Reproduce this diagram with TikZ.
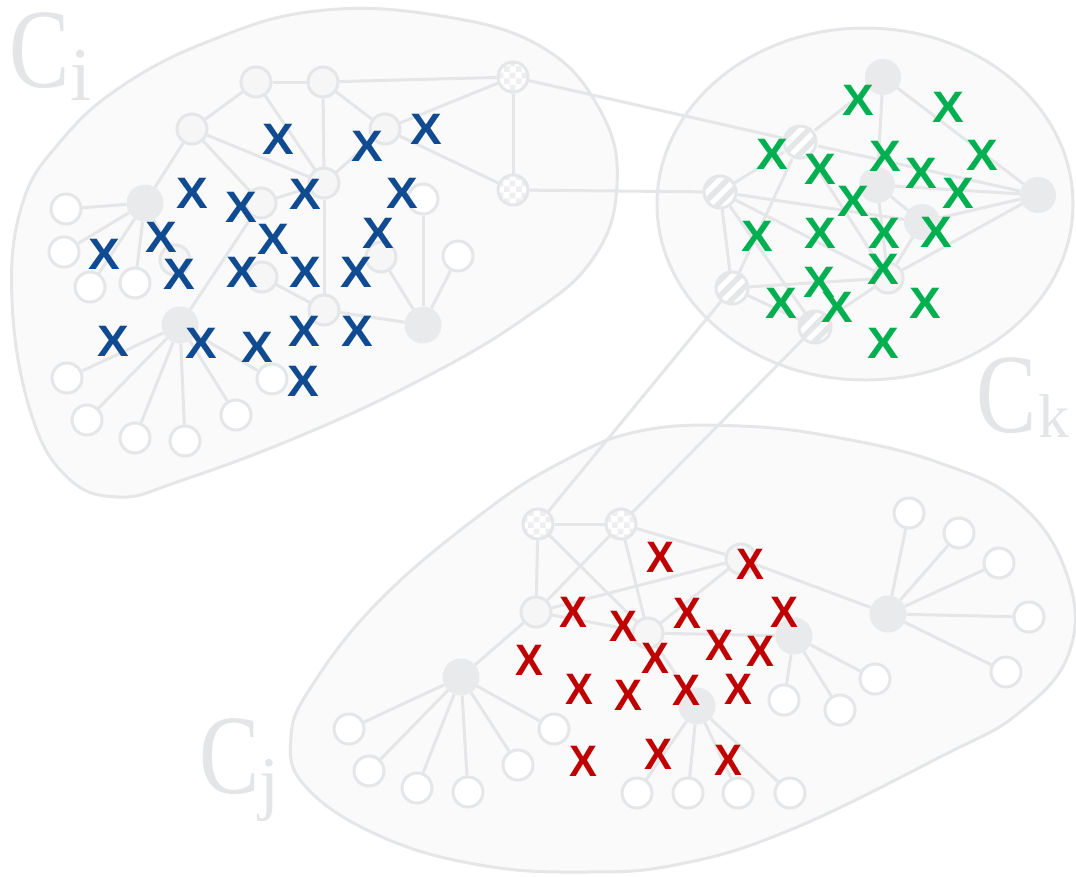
\documentclass[tikz,border=0pt]{standalone}
\usepackage{fontspec}
\usetikzlibrary{patterns,patterns.meta}
\newfontfamily\xfont{Liberation Sans}
\newfontfamily\lfont{Liberation Serif}
\definecolor{gline}{RGB}{229,230,232}
\definecolor{gfill}{RGB}{233,234,236}
\definecolor{blobfill}{RGB}{250,250,251}
\definecolor{innerfill}{RGB}{246,246,247}
\definecolor{xblue}{RGB}{16,74,145}
\definecolor{xgreen}{RGB}{0,176,80}
\definecolor{xred}{RGB}{192,0,0}
\definecolor{lbl}{RGB}{228,229,231}
\definecolor{chkcol}{RGB}{238,238,240}
\pgfdeclarepatternformonly{bigcheck}{\pgfpointorigin}{\pgfqpoint{12pt}{12pt}}{\pgfqpoint{12pt}{12pt}}{%
  \pgfpathrectangle{\pgfpointorigin}{\pgfqpoint{6pt}{6pt}}%
  \pgfpathrectangle{\pgfqpoint{6pt}{6pt}}{\pgfqpoint{6pt}{6pt}}%
  \pgfusepath{fill}}
\pgfdeclarelayer{blobs}
\pgfdeclarelayer{edges}
\pgfsetlayers{blobs,edges,main}
\tikzset{
  leaf/.style={circle, draw=gline, line width=3pt, fill=white, minimum size=30pt, inner sep=0pt},
  inner/.style={leaf, fill=innerfill},
  hub/.style={circle, fill=gfill, minimum size=37pt, inner sep=0pt},
  chk/.style={leaf, preaction={fill=white}, pattern=bigcheck, pattern color=chkcol},
  strp/.style={leaf, minimum size=32pt, preaction={fill=white}, pattern={Lines[angle=45,distance=11pt,line width=5.5pt]}, pattern color=gline},
  edge/.style={draw=gline, line width=3pt},
  blob/.style={draw=gline, line width=3pt, fill=blobfill},
  xm/.style={inner sep=0pt, font=\xfont\bfseries\fontsize{44}{44}\selectfont},
  xb/.style={xm, text=xblue},
  xg/.style={xm, text=xgreen},
  xr/.style={xm, text=xred},
  lbl/.style={inner sep=0pt, anchor=base, text=lbl}
}
\begin{document}
\begin{tikzpicture}[x=1pt,y=-1pt]
\useasboundingbox (0,0) rectangle (1076,876);
\begin{pgfonlayer}{blobs}
\fill[white] (0,0) rectangle (1076,876);
% C_i blob
\draw[blob] plot[smooth cycle, tension=0.7] coordinates {(316,11) (435,15) (540,46) (600,110) (617,185) (592,260) (522,320) (420,380) (300,436) (180,481) (118,497) (66,476) (30,410) (12,300) (22,205) (60,142) (122,86) (212,40)};
% C_k blob
\draw[blob] (865,204) ellipse [x radius=208, y radius=176];
% C_j blob
\draw[blob] plot[smooth cycle, tension=0.7] coordinates {(560,463) (640,431) (740,426) (840,438) (940,463) (1018,502) (1066,572) (1070,650) (1020,712) (940,757) (790,830) (680,864) (585,872) (480,865) (380,836) (306,787) (291,737) (313,684) (380,600) (480,515)};
\end{pgfonlayer}

% ---------- C_i nodes
\node[inner] (ciA) at (256,82) {};
\node[inner] (ciB) at (323,82) {};
\node[chk] (ciC) at (513,77) {};
\node[inner] (ciD) at (192,129) {};
\node[inner] (ciE) at (385,129) {};
\node[inner] (ciF) at (324,183) {};
\node[chk] (ciG) at (513,190) {};
\node[hub] (ciH) at (145,203) {};
\node[leaf] (ciI) at (66,209) {};
\node[inner] (ciJ) at (261,203) {};
\node[leaf] (ciK) at (423,199) {};
\node[leaf] (ciL) at (64,252) {};
\node[inner] (ciM) at (175,260) {};
\node[leaf] (ciN) at (90,287) {};
\node[leaf] (ciO) at (135,283) {};
\node[inner] (ciP) at (381,257) {};
\node[leaf] (ciQ) at (458,256) {};
\node[inner] (ciR) at (262,277) {};
\node[inner] (ciS) at (324,310) {};
\node[hub] (ciT) at (423,325) {};
\node[hub] (ciU) at (180,325) {};
\node[leaf] (ciV) at (67,378) {};
\node[leaf] (ciW) at (87,420) {};
\node[leaf] (ciX) at (135,438) {};
\node[leaf] (ciY) at (185,441) {};
\node[leaf] (ciZ) at (236,415) {};
\node[leaf] (ciAA) at (272,379) {};

% ---------- C_k nodes
\node[hub, minimum size=36pt] (k1) at (883,77) {};
\node[strp] (k2) at (800,142) {};
\node[strp] (k3) at (720,192) {};
\node[hub, minimum size=36pt] (k4) at (877,185) {};
\node[hub, minimum size=36pt] (k5) at (1038,195) {};
\node[hub, minimum size=36pt] (k6) at (922,222) {};
\node[strp] (k7) at (732,288) {};
\node[inner] (k8) at (888,278) {};
\node[strp] (k9) at (815,327) {};

% ---------- C_j nodes
\node[chk] (j1) at (538,524) {};
\node[chk] (j2) at (621,524) {};
\node[inner] (j3) at (741,559) {};
\node[inner] (j4) at (536,612) {};
\node[inner] (j5) at (648,633) {};
\node[hub] (j6) at (794,636) {};
\node[hub] (j7) at (888,614) {};
\node[hub] (j8) at (461,677) {};
\node[hub] (j9) at (697,706) {};
\node[leaf] (j10) at (909,513) {};
\node[leaf] (j11) at (959,533) {};
\node[leaf] (j12) at (999,563) {};
\node[leaf] (j13) at (1029,617) {};
\node[leaf] (j14) at (1006,672) {};
\node[leaf] (j15) at (875,679) {};
\node[leaf] (j16) at (840,710) {};
\node[leaf] (j17) at (784,700) {};
\node[leaf] (j18) at (349,729) {};
\node[leaf] (j19) at (369,771) {};
\node[leaf] (j20) at (417,788) {};
\node[leaf] (j21) at (468,792) {};
\node[leaf] (j22) at (518,765) {};
\node[leaf] (j23) at (554,729) {};
\node[leaf] (j24) at (637,793) {};
\node[leaf] (j25) at (688,793) {};
\node[leaf] (j26) at (738,793) {};
\node[leaf] (j27) at (790,793) {};

\begin{pgfonlayer}{edges}
\foreach \a/\b in {ciA/ciB, ciB/ciC, ciA/ciD, ciA/ciF, ciB/ciF, ciB/ciE, ciC/ciE, ciC/ciG, ciE/ciG, ciD/ciF, ciD/ciH, ciD/ciJ, ciF/ciE, ciF/ciJ, ciF/ciS, ciH/ciI, ciH/ciL, ciH/ciN, ciH/ciO, ciH/ciM, ciJ/ciU, ciR/ciS, ciS/ciT, ciK/ciT, ciP/ciT, ciQ/ciT, ciU/ciV, ciU/ciW, ciU/ciX, ciU/ciY, ciU/ciZ, ciU/ciAA,
  k1/k2, k1/k4, k1/k5, k2/k3, k2/k5, k2/k7, k2/k8, k3/k6, k3/k8, k3/k9, k3/k7, k4/k5, k4/k6, k4/k8, k6/k5, k8/k5, k7/k8, k7/k9, k9/k8, k6/k8,
  j1/j2, j1/j4, j1/j5, j2/j4, j2/j5, j2/j3, j4/j3, j3/j7, j3/j5, j4/j5, j5/j6, j5/j9, j4/j8, j6/j15, j6/j16, j6/j17, j7/j10, j7/j11, j7/j12, j7/j13, j7/j14, j8/j18, j8/j19, j8/j20, j8/j21, j8/j22, j8/j23, j9/j24, j9/j25, j9/j26, j9/j27,
  ciC/k2, ciG/k3, k7/j1, k9/j2}
  \draw[edge] (\a) -- (\b);
\end{pgfonlayer}

% ---------- X marks
\foreach \p [count=\i] in {(278,139),(367,146),(426,129),(192,193),(241,207),(305,194),(402,193),(161,237),(273,239),(378,233),(104,254),(179,274),(242,272),(305,272),(356,272),(113,341),(201,343),(257,347),(304,331),(357,331),(303,381)}
  \node[xb] (bx\i) at \p {\scalebox{1.08}[1]{X}};
\foreach \p [count=\i] in {(858,100),(948,107),(772,154),(885,156),(982,155),(820,169),(921,173),(958,193),(853,201),(757,236),(820,233),(884,233),(936,232),(883,269),(819,282),(781,303),(837,307),(925,303),(883,343)}
  \node[xg] (gx\i) at \p {\scalebox{1.08}[1]{X}};
\foreach \p [count=\i] in {(660,557),(750,564),(573,612),(623,626),(687,613),(784,612),(719,645),(760,651),(655,658),(529,660),(579,689),(628,695),(686,690),(738,689),(583,761),(658,754),(728,760)}
  \node[xr] (rx\i) at \p {\scalebox{0.95}[1]{X}};

% ---------- labels
\node[lbl, font=\lfont\fontsize{113}{113}\selectfont] (lci) at (40,87) {\scalebox{0.8}[1]{C}};
\node[lbl, font=\lfont\fontsize{76}{76}\selectfont] (lcii) at (81,100) {i};
\node[lbl, font=\lfont\fontsize{113}{113}\selectfont] (lck) at (1007,432) {\scalebox{0.8}[1]{C}};
\node[lbl, font=\lfont\fontsize{62}{62}\selectfont] (lckk) at (1054,437) {k};
\node[lbl, font=\lfont\fontsize{113}{113}\selectfont] (lcj) at (230,793) {\scalebox{0.8}[1]{C}};
\node[lbl, font=\lfont\fontsize{71}{71}\selectfont] (lcjj) at (269,806) {j};
\end{tikzpicture}
\end{document}
